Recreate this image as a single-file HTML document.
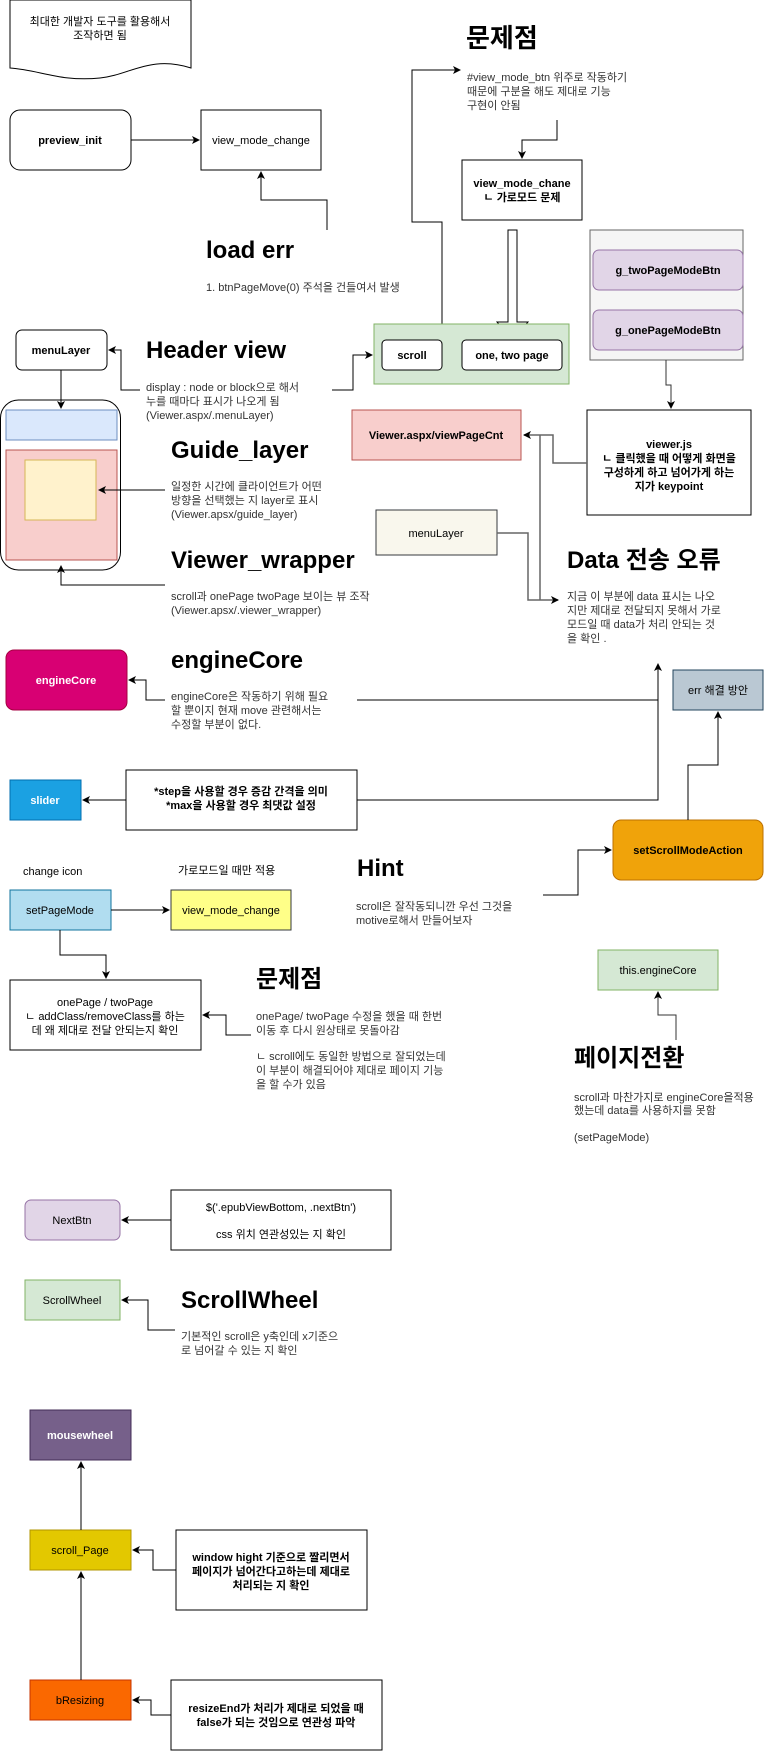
<!DOCTYPE html>
<html><head><meta charset="utf-8"><style>
html,body{margin:0;padding:0;background:#fff;}
svg{display:block;}
text{font-family:"Liberation Sans","Noto Sans CJK KR",sans-serif;font-size:11px;fill:#000;}
.s{fill:#333;}
.b{font-weight:bold;}
.h{font-weight:bold;font-size:24px;}
.c{text-anchor:middle;}
.w{fill:#fff;font-weight:bold;}
</style></head><body>
<svg width="781" height="1751" viewBox="0 0 781 1751" xmlns="http://www.w3.org/2000/svg">
<defs><marker id="a" markerWidth="8" markerHeight="8" refX="7" refY="4" orient="auto" markerUnits="userSpaceOnUse"><path d="M0,0 L8,4 L0,8 L2,4 z" fill="#000"/></marker></defs>
<g fill="none" stroke="#000" stroke-width="1">
<!-- document -->
<path d="M10,0 H191 V68 C150,55 130,75 100,78 C60,82 40,70 10,68 Z" fill="#fff"/>
<rect x="10" y="110" width="121" height="60" rx="10" fill="#fff"/>
<rect x="201" y="110" width="120" height="60" fill="#fff"/>
<path d="M131,140 H199" marker-end="url(#a)"/>
<path d="M327,230 V200 H261 V172" marker-end="url(#a)"/>
<path d="M442,324 V222 H412 V70 H460" marker-end="url(#a)"/>
<path d="M557,120 V140 H522 V158" marker-end="url(#a)"/>
<rect x="462" y="160" width="120" height="60" fill="#fff"/>
<path d="M508,230 H517 V322 H528 L512.5,340 L497,322 H508 Z" fill="#fff"/>
<rect x="590" y="230" width="153" height="130" fill="#f5f5f5" stroke="#666"/>
<rect x="593" y="250" width="150" height="40" rx="6" fill="#e1d5e7" stroke="#9673a6"/>
<rect x="593" y="310" width="150" height="40" rx="6" fill="#e1d5e7" stroke="#9673a6"/>
<path d="M666,360 V385 H671 V408" stroke="#333" marker-end="url(#a)"/>
<rect x="374" y="324" width="195" height="60" fill="#d5e8d4" stroke="#82b366"/>
<rect x="382" y="340" width="60" height="30" rx="4" fill="#fff"/>
<rect x="462" y="340" width="100" height="30" rx="4" fill="#fff"/>
<rect x="16" y="330" width="91" height="40" rx="6" fill="#fff"/>
<path d="M140,390 H121 V350 H109" marker-end="url(#a)"/>
<path d="M332,390 H353 V355 H372" marker-end="url(#a)"/>
<rect x="0.5" y="400" width="120" height="170" rx="18" fill="#fff"/>
<path d="M61,370 V408" marker-end="url(#a)"/>
<rect x="6" y="410" width="111" height="30" fill="#dae8fc" stroke="#6c8ebf"/>
<rect x="6" y="450" width="111" height="110" fill="#f8cecc" stroke="#b85450"/>
<rect x="25" y="460" width="71" height="60" fill="#fff2cc" stroke="#d6b656"/>
<path d="M165,490 H99" marker-end="url(#a)"/>
<path d="M165,585 H61 V566" marker-end="url(#a)"/>
<rect x="352" y="410" width="169" height="50" fill="#f8cecc" stroke="#b85450"/>
<rect x="587" y="410" width="164" height="105" fill="#fff"/>
<path d="M587,463 H553 V435 H524" stroke="#666" stroke-width="1.5" marker-end="url(#a)"/>
<path d="M540,435 V600" stroke="#666" stroke-width="1.5"/>
<rect x="376" y="510" width="121" height="45" fill="#f9f7ed" stroke="#36393d"/>
<path d="M497,533 H528 V600 H558" stroke="#666" stroke-width="1.5" marker-end="url(#a)"/>
<rect x="6" y="650" width="121" height="60" rx="8" fill="#d80073" stroke="#a50040"/>
<path d="M165,700 H146 V680 H129" marker-end="url(#a)"/>
<path d="M357,700 H658 V664" marker-end="url(#a)"/>
<rect x="673" y="670" width="90" height="40" fill="#bac8d3" stroke="#23445d"/>
<rect x="10" y="780" width="71" height="40" fill="#1ba1e2" stroke="#006eaf"/>
<rect x="126" y="770" width="231" height="60" fill="#fff"/>
<path d="M126,800 H83" marker-end="url(#a)"/>
<path d="M357,800 H658 V700"/>
<rect x="613" y="820" width="150" height="60" rx="8" fill="#f0a30a" stroke="#BD7000"/>
<path d="M688,820 V765 H718 V712" marker-end="url(#a)"/>
<path d="M543,895 H578 V850 H611" marker-end="url(#a)"/>
<rect x="10" y="890" width="101" height="40" fill="#b1ddf0" stroke="#10739e"/>
<rect x="171" y="890" width="120" height="40" fill="#ffff88" stroke="#36393d"/>
<path d="M111,910 H169" marker-end="url(#a)"/>
<path d="M60,930 V955 H106 V978" marker-end="url(#a)"/>
<rect x="10" y="980" width="191" height="70" fill="#fff"/>
<path d="M251,1035 H226 V1015 H203" marker-end="url(#a)"/>
<rect x="598" y="950" width="120" height="40" fill="#d5e8d4" stroke="#82b366"/>
<path d="M676,1040 V1015 H658 V992" stroke="#333" marker-end="url(#a)"/>
<rect x="25" y="1200" width="95" height="40" rx="6" fill="#e1d5e7" stroke="#9673a6"/>
<rect x="171" y="1190" width="220" height="60" fill="#fff"/>
<path d="M171,1220 H122" marker-end="url(#a)"/>
<rect x="25" y="1280" width="95" height="40" fill="#d5e8d4" stroke="#82b366"/>
<path d="M175,1330 H148 V1300 H122" marker-end="url(#a)"/>
<rect x="30" y="1410" width="101" height="50" fill="#76608a" stroke="#432d57"/>
<rect x="30" y="1530" width="101" height="40" fill="#e3c800" stroke="#B09500"/>
<rect x="176" y="1530" width="191" height="80" fill="#fff"/>
<path d="M176,1570 H153 V1550 H133" marker-end="url(#a)"/>
<rect x="30" y="1680" width="101" height="40" fill="#fa6800" stroke="#C73500"/>
<rect x="171" y="1680" width="211" height="70" fill="#fff"/>
<path d="M171,1715 H151 V1700 H133" marker-end="url(#a)"/>
<path d="M81,1680 V1572" marker-end="url(#a)"/>
<path d="M81,1530 V1462" marker-end="url(#a)"/>
</g>
<text class="c" x="100" y="25">최대한 개발자 도구를 활용해서</text>
<text class="c" x="100" y="39">조작하면 됨</text>
<text class="c b" x="70" y="144">preview_init</text>
<text class="c" x="261" y="144">view_mode_change</text>
<text class="h" x="466" y="47" style="font-size:26px">문제점</text>
<text class="s" x="467" y="81">#view_mode_btn 위주로 작동하기</text>
<text class="s" x="467" y="95">때문에 구분을 해도 제대로 기능</text>
<text class="s" x="467" y="109">구현이 안됨</text>
<text class="c b" x="522" y="187">view_mode_chane</text>
<text class="c b" x="522" y="201">ㄴ 가로모드 문제</text>
<text class="h" x="206" y="258">load err</text>
<text class="s" x="206" y="291">1. btnPageMove(0) 주석을 건들여서 발생</text>
<text class="c b" x="668" y="274">g_twoPageModeBtn</text>
<text class="c b" x="668" y="334">g_onePageModeBtn</text>
<text class="c b" x="412" y="359">scroll</text>
<text class="c b" x="512" y="359">one, two page</text>
<text class="c b" x="61" y="354">menuLayer</text>
<text class="h" x="146" y="358">Header view</text>
<text class="s" x="146" y="391">display : node or block으로 해서</text>
<text class="s" x="146" y="405">누를 때마다 표시가 나오게 됨</text>
<text class="s" x="146" y="419">(Viewer.aspx/.menuLayer)</text>
<text class="c b" x="436" y="439">Viewer.aspx/viewPageCnt</text>
<text class="c b" x="669" y="448">viewer.js</text>
<text class="c b" x="669" y="462">ㄴ 클릭했을 때 어떻게 화면을</text>
<text class="c b" x="669" y="476">구성하게 하고 넘어가게 하는</text>
<text class="c b" x="669" y="490">지가 keypoint</text>
<text class="h" x="171" y="458">Guide_layer</text>
<text class="s" x="171" y="490">일정한 시간에 클라이언트가 어떤</text>
<text class="s" x="171" y="504">방향을 선택했는 지 layer로 표시</text>
<text class="s" x="171" y="518">(Viewer.apsx/guide_layer)</text>
<text class="c" x="436" y="537">menuLayer</text>
<text class="h" x="171" y="568">Viewer_wrapper</text>
<text class="s" x="171" y="600">scroll과 onePage twoPage 보이는 뷰 조작</text>
<text class="s" x="171" y="614">(Viewer.apsx/.viewer_wrapper)</text>
<text class="h" x="567" y="568">Data 전송 오류</text>
<text class="s" x="567" y="600">지금 이 부분에 data 표시는 나오</text>
<text class="s" x="567" y="614">지만 제대로 전달되지 못해서 가로</text>
<text class="s" x="567" y="628">모드일 때 data가 처리 안되는 것</text>
<text class="s" x="567" y="642">을 확인 .</text>
<text class="c w" x="66" y="684">engineCore</text>
<text class="h" x="171" y="668">engineCore</text>
<text class="s" x="171" y="700">engineCore은 작동하기 위해 필요</text>
<text class="s" x="171" y="714">할 뿐이지 현재 move 관련해서는</text>
<text class="s" x="171" y="728">수정할 부분이 없다.</text>
<text class="c" x="718" y="694">err 해결 방안</text>
<text class="c w" x="45" y="804">slider</text>
<text class="c b" x="241" y="795">*step을 사용할 경우 증감 간격을 의미</text>
<text class="c b" x="241" y="809">*max을 사용할 경우 최댓값 설정</text>
<text class="c b" x="688" y="854">setScrollModeAction</text>
<text x="23" y="875">change icon</text>
<text x="178" y="874">가로모드일 때만 적용</text>
<text class="h" x="357" y="876">Hint</text>
<text class="s" x="356" y="910">scroll은 잘작동되니깐 우선 그것을</text>
<text class="s" x="356" y="924">motive로해서 만들어보자</text>
<text class="c" x="60" y="914">setPageMode</text>
<text class="c" x="231" y="914">view_mode_change</text>
<text class="c" x="658" y="974">this.engineCore</text>
<text class="c" x="105" y="1006">onePage / twoPage</text>
<text class="c" x="105" y="1020">ㄴ addClass/removeClass를 하는</text>
<text class="c" x="105" y="1034">데 왜 제대로 전달 안되는지 확인</text>
<text class="h" x="256" y="987">문제점</text>
<text class="s" x="256" y="1020">onePage/ twoPage 수정을 했을 때 한번</text>
<text class="s" x="256" y="1034">이동 후 다시 원상태로 못돌아감</text>
<text class="s" x="256" y="1060">ㄴ scroll에도 동일한 방법으로 잘되었는데</text>
<text class="s" x="256" y="1074">이 부분이 해결되어야 제대로 페이지 기능</text>
<text class="s" x="256" y="1088">을 할 수가 있음</text>
<text class="h" x="574" y="1066">페이지전환</text>
<text class="s" x="574" y="1101">scroll과 마찬가지로 engineCore을적용</text>
<text class="s" x="574" y="1114">했는데 data를 사용하지를 못함</text>
<text class="s" x="574" y="1141">(setPageMode)</text>
<text class="c" x="72" y="1224">NextBtn</text>
<text class="c" x="281" y="1211">$('.epubViewBottom, .nextBtn')</text>
<text class="c" x="281" y="1238">css 위치 연관성있는 지 확인</text>
<text class="c" x="72" y="1304">ScrollWheel</text>
<text class="h" x="181" y="1308">ScrollWheel</text>
<text class="s" x="181" y="1340">기본적인 scroll은 y축인데 x기준으</text>
<text class="s" x="181" y="1354">로 넘어갈 수 있는 지 확인</text>
<text class="c w" x="80" y="1439">mousewheel</text>
<text class="c" x="80" y="1554">scroll_Page</text>
<text class="c b" x="271" y="1561">window hight 기준으로 짤리면서</text>
<text class="c b" x="271" y="1575">페이지가 넘어간다고하는데 제대로</text>
<text class="c b" x="271" y="1589">처리되는 지 확인</text>
<text class="c" x="80" y="1704">bResizing</text>
<text class="c b" x="276" y="1712">resizeEnd가 처리가 제대로 되었을 때</text>
<text class="c b" x="276" y="1726">false가 되는 것임으로 연관성 파악</text>
</svg>
</body></html>
